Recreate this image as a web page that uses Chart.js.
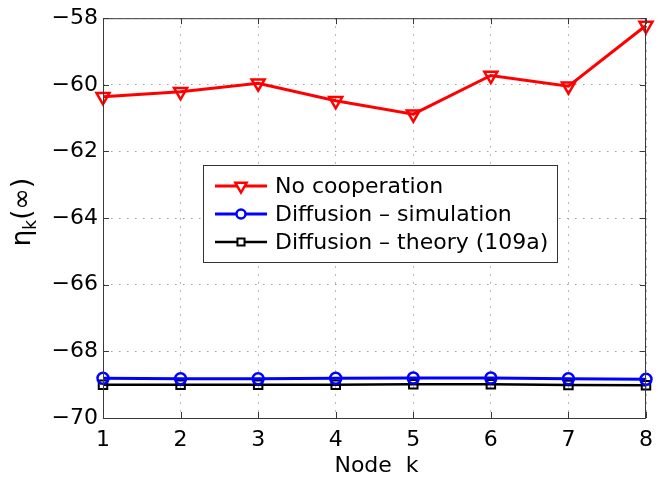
<!DOCTYPE html>
<html>
<head>
<meta charset="utf-8">
<script src="https://cdn.jsdelivr.net/npm/chart.js@4.4.1/dist/chart.umd.min.js"></script>
<style>
  html, body { margin: 0; padding: 0; background: #fff; }
  #wrap { width: 662px; height: 478px; }
</style>
</head>
<body>
<div id="wrap"><canvas id="c" width="662" height="478"></canvas></div>
<script>
// Steady-state EMSE per node (dB)
const nodes = [1, 2, 3, 4, 5, 6, 7, 8];
const noCooperation = [-60.36, -60.21, -59.95, -60.48, -60.88, -59.72, -60.04, -58.22];
const diffusionSim = [-68.81, -68.82, -68.82, -68.81, -68.80, -68.80, -68.82, -68.84];
const diffusionTheory = [-69.00, -69.00, -69.00, -69.00, -68.99, -68.99, -69.01, -69.02];
const yTicks = [-70, -68, -66, -64, -62, -60, -58];
const xTicks = [1, 2, 3, 4, 5, 6, 7, 8];
const seriesNames = ['No cooperation', 'Diffusion \u2013 simulation', 'Diffusion \u2013 theory (109a)'];

const FONT = '"DejaVu Sans", Verdana, sans-serif';

function pts(vals) { return nodes.map((n, i) => ({ x: n, y: vals[i] })); }

// Box, inward ticks, legend and axis titles
const framePlugin = {
  id: 'frame',
  afterDraw(chart) {
    const ctx = chart.ctx;
    const a = chart.chartArea;
    const xs = chart.scales.x, ys = chart.scales.y;
    ctx.save();
    ctx.strokeStyle = '#3a3a3a';
    ctx.lineWidth = 1;
    ctx.setLineDash([]);
    ctx.strokeRect(a.left + 0.5, a.top + 0.5, a.right - a.left - 1, a.bottom - a.top);
    const tl = 6;
    ctx.beginPath();
    xTicks.forEach(v => {
      const px = Math.round(xs.getPixelForValue(v)) + 0.5;
      ctx.moveTo(px, a.bottom); ctx.lineTo(px, a.bottom - tl);
      ctx.moveTo(px, a.top); ctx.lineTo(px, a.top + tl);
    });
    yTicks.forEach(v => {
      const py = Math.round(ys.getPixelForValue(v)) + 0.5;
      ctx.moveTo(a.left, py); ctx.lineTo(a.left + tl, py);
      ctx.moveTo(a.right, py); ctx.lineTo(a.right - tl, py);
    });
    ctx.stroke();

    // legend
    const lx = 203, ly = 165, lw = 354, lh = 97;
    ctx.fillStyle = '#fff';
    ctx.fillRect(lx, ly, lw, lh);
    ctx.strokeStyle = '#333';
    ctx.lineWidth = 1;
    ctx.strokeRect(lx + 0.5, ly + 0.5, lw, lh);
    const rows = [186, 214, 242];
    chart.data.datasets.forEach((ds, i) => {
      const y = rows[i];
      ctx.strokeStyle = ds.borderColor;
      ctx.lineWidth = ds.borderWidth;
      ctx.beginPath(); ctx.moveTo(215, y); ctx.lineTo(267, y); ctx.stroke();
      ctx.fillStyle = '#ffffff';
      ctx.strokeStyle = ds.pointBorderColor;
      ctx.lineWidth = ds.pointBorderWidth;
      Chart.helpers.drawPoint(ctx, {
        pointStyle: ds.pointStyle, rotation: ds.pointRotation || 0,
        radius: ds.pointRadius - 1, borderWidth: ds.pointBorderWidth
      }, 241, y);
      ctx.fillStyle = '#000';
      ctx.font = '22px ' + FONT;
      ctx.textBaseline = 'middle';
      ctx.textAlign = 'left';
      ctx.fillText(seriesNames[i], 275, y + 1);
    });

    // x title
    ctx.fillStyle = '#000';
    ctx.font = '22px ' + FONT;
    ctx.textAlign = 'center';
    ctx.textBaseline = 'alphabetic';
    ctx.fillText('Node  k', (a.left + a.right) / 2 + 2, 472);

    // y title: eta with subscript k, then (inf)
    ctx.save();
    ctx.translate(30, 212);
    ctx.rotate(-Math.PI / 2);
    ctx.textAlign = 'left';
    const big = '26px ' + FONT, small = '17px ' + FONT;
    ctx.font = big; const w1 = ctx.measureText('\u03b7').width;
    ctx.font = small; const w2 = ctx.measureText('k').width;
    ctx.font = big; const w3 = ctx.measureText('(\u221e)').width;
    let x0 = -(w1 + w2 + w3) / 2;
    ctx.font = big; ctx.fillText('\u03b7', x0, 0); x0 += w1;
    ctx.font = small; ctx.fillText('k', x0, 6); x0 += w2;
    ctx.font = big; ctx.fillText('(\u221e)', x0, 0);
    ctx.restore();
    ctx.restore();
  }
};

const gridStyle = {
  color: '#a0a0a0',
  lineWidth: 1,
  drawTicks: false
};

new Chart(document.getElementById('c'), {
  type: 'line',
  data: {
    datasets: [
      {
        label: seriesNames[0], data: pts(noCooperation),
        borderColor: '#ff0000', borderWidth: 3,
        pointStyle: 'triangle', pointRotation: 180, pointRadius: 7.5,
        pointBorderWidth: 2.5, pointBorderColor: '#ff0000', pointBackgroundColor: 'rgba(0,0,0,0)',
        tension: 0
      },
      {
        label: seriesNames[1], data: pts(diffusionSim),
        borderColor: '#0000ff', borderWidth: 3,
        pointStyle: 'circle', pointRadius: 5.5,
        pointBorderWidth: 2.5, pointBorderColor: '#0000ff', pointBackgroundColor: 'rgba(0,0,0,0)',
        tension: 0
      },
      {
        label: seriesNames[2], data: pts(diffusionTheory),
        borderColor: '#000000', borderWidth: 2.5,
        pointStyle: 'rect', pointRadius: 6,
        pointBorderWidth: 2, pointBorderColor: '#000000', pointBackgroundColor: 'rgba(0,0,0,0)',
        tension: 0
      }
    ]
  },
  options: {
    responsive: false,
    animation: false,
    clip: false,
    layout: { padding: { left: 0, top: 11, right: 6, bottom: 0 } },
    plugins: { legend: { display: false }, tooltip: { enabled: false } },
    scales: {
      x: {
        type: 'linear', min: 1, max: 8,
        afterBuildTicks(s) { s.ticks = xTicks.map(v => ({ value: v })); },
        afterFit(s) { s.height = 60; },
        grid: Object.assign({}, gridStyle),
        border: { display: false, dash: [1.5, 6.5] },
        ticks: { padding: 9, color: '#000', font: { family: FONT, size: 22 }, maxRotation: 0 }
      },
      y: {
        type: 'linear', min: -70, max: -58,
        afterBuildTicks(s) { s.ticks = yTicks.map(v => ({ value: v })); },
        afterFit(s) { s.width = 103; },
        grid: Object.assign({}, gridStyle),
        border: { display: false, dash: [1.5, 6.5] },
        ticks: {
          padding: 5, color: '#000', font: { family: FONT, size: 22 },
          callback: v => String(v).replace('-', '\u2212')
        }
      }
    }
  },
  plugins: [framePlugin]
});
</script>
</body>
</html>
